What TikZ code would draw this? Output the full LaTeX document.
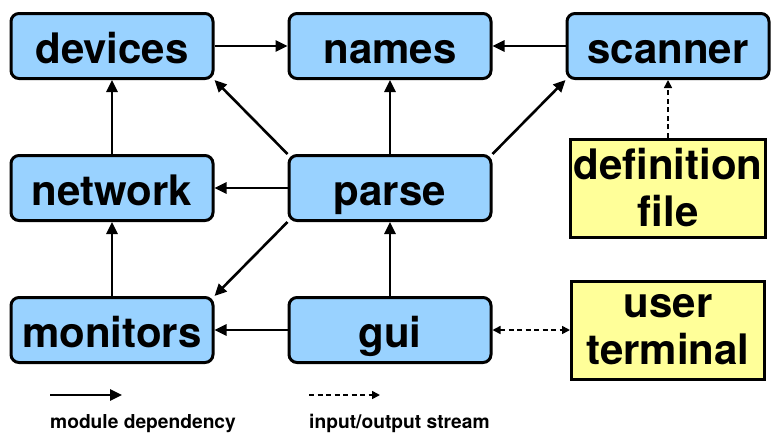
\documentclass[tikz,border=0pt]{standalone}
\usepackage{fontspec}
\setmainfont{TeX Gyre Heros}
\usetikzlibrary{arrows.meta,positioning}
\definecolor{BoxBlue}{HTML}{99D2FF}
\definecolor{FileYellow}{HTML}{FFFF99}
\tikzset{
  module/.style={
    rounded corners=8pt, draw=black, line width=3pt, fill=BoxBlue,
    minimum width=202pt, minimum height=65pt, align=center,
    text height=34pt, text depth=0pt,
    font=\fontsize{42}{47}\selectfont\bfseries
  },
  source/.style={
    draw=black, line width=3pt, fill=FileYellow,
    minimum width=193pt, minimum height=98pt, align=center,
    font=\fontsize{42}{47}\selectfont\bfseries
  },
  dep/.style={-{Triangle[length=12pt,width=11pt]}, line width=2.6pt, draw=black},
  iostream/.style={-{Triangle[length=8pt,width=8pt]}, line width=1.6pt, draw=black,
    dash pattern=on 5pt off 3.5pt},
  legendtext/.style={font=\fontsize{19.2}{22}\selectfont\bfseries, anchor=base west, inner sep=0pt}
}
\begin{document}
\begin{tikzpicture}[x=1pt,y=-1pt]
    \useasboundingbox (0,0) rectangle (781,437);
    % modules
    \node[module] (devices) at (112,46) {devices};
    \node[module] (names) at (390,46) {names};
    \node[module] (scanner) at (668,46) {scanner};
    \node[module] (network) at (112,188) {network};
    \node[module] (parse) at (390,188) {parse};
    \node[module] (monitors) at (112,330) {monitors};
    \node[module] (gui) at (390,330) {gui};
    % files and terminal
    \node[source] (deffile) at (668,188) {definition\\file};
    \node[source] (terminal) at (668,330) {user\\terminal};
    % dependencies
    \draw[dep] (devices)--(names);
    \draw[dep] (scanner)--(names);
    \draw[dep] (network)--(devices);
    \draw[dep] (monitors)--(network);
    \draw[dep] (parse)--(names);
    \draw[dep] (parse)--(network);
    \draw[dep] (parse.north west)--(devices.south east);
    \draw[dep] (parse.north east)--(scanner.south west);
    \draw[dep] (parse.south west)--(monitors.north east);
    \draw[dep] (gui)--(parse);
    \draw[dep] (gui)--(monitors);
    % streams
    \draw[iostream] (deffile)--(scanner);
    \draw[iostream,{Triangle[length=8pt,width=8pt]}-{Triangle[length=8pt,width=8pt]}] (gui)--(terminal);
    % legend
    \coordinate (depA) at (50,395);
    \coordinate (depB) at (122,395);
    \coordinate (ioA) at (309,395);
    \coordinate (ioB) at (380,395);
    \draw[dep] (depA)--(depB);
    \draw[iostream] (ioA)--(ioB);
    \node[legendtext] (deplabel) at (50,428) {module dependency};
    \node[legendtext] (iolabel) at (309,428) {input/output stream};
  \end{tikzpicture}
\end{document}
